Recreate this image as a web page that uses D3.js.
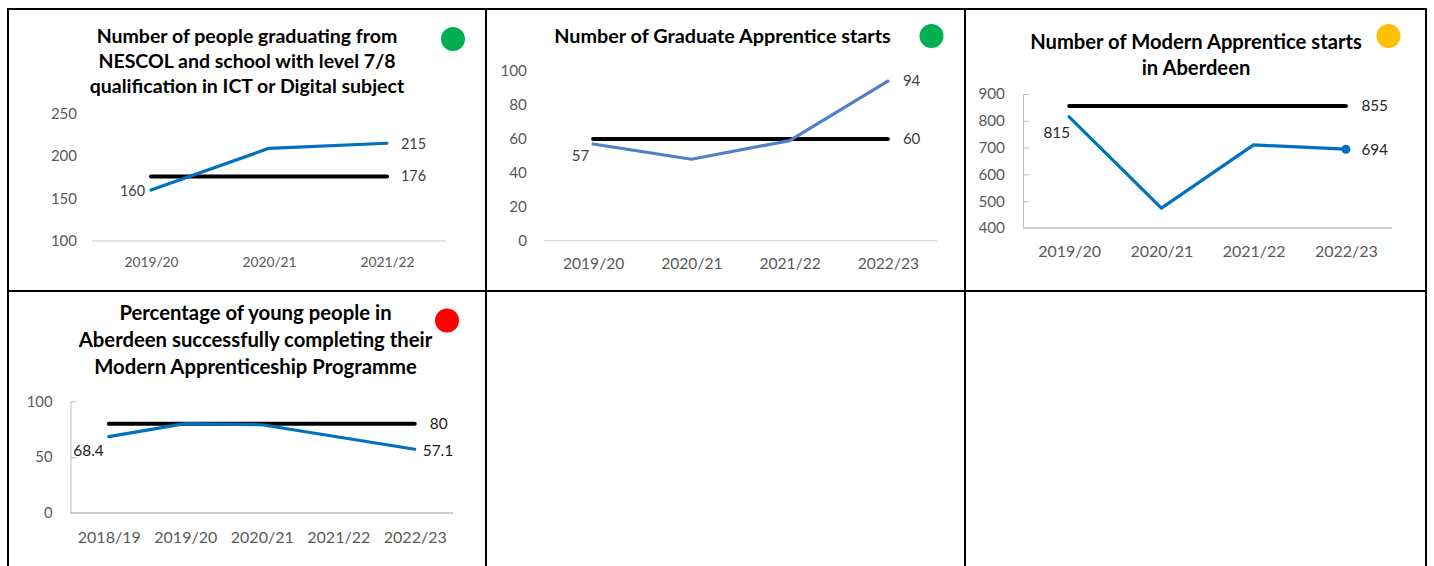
<!DOCTYPE html>
<html>
<head>
<meta charset="utf-8">
<script src="https://cdn.jsdelivr.net/npm/d3@7"></script>
<style>
  html, body { margin: 0; padding: 0; background: #fff; }
  svg { display: block; font-family: Lato, "Open Sans", sans-serif; }
</style>
</head>
<body>
<svg id="chart" width="1434" height="566"></svg>
<script>
// ---- Data ----
// NESCOL / school level 7/8 ICT or Digital graduates
const gradYears = ["2019/20", "2020/21", "2021/22"];
const gradValues = [160, 209, 215];
const gradTarget = 176;
const gradTicks = [100, 150, 200, 250];

// Graduate Apprentice starts
const gaYears = ["2019/20", "2020/21", "2021/22", "2022/23"];
const gaValues = [57, 48, 59, 94];
const gaTarget = 60;
const gaTicks = [0, 20, 40, 60, 80, 100];

// Modern Apprentice starts in Aberdeen
const maYears = ["2019/20", "2020/21", "2021/22", "2022/23"];
const maValues = [815, 474, 710, 694];
const maTarget = 855;
const maTicks = [400, 500, 600, 700, 800, 900];

// Modern Apprenticeship completion rate (%)
const mcYears = ["2018/19", "2019/20", "2020/21", "2021/22", "2022/23"];
const mcValues = [68.4, 80, 79, 68, 57.1];
const mcTarget = 80;
const mcTicks = [0, 50, 100];

// RAG status colours
const ragGreen = "#00B050", ragAmber = "#FFC000", ragRed = "#FF0000";

const svg = d3.select("#chart");
svg.append("rect").attr("width", 1434).attr("height", 566).attr("fill", "#fff");

// ---- Table grid ----
const grid = svg.append("g").attr("stroke", "#000").attr("stroke-width", 2);
[8, 486, 965, 1426].forEach(x =>
  grid.append("line").attr("x1", x).attr("x2", x).attr("y1", 8).attr("y2", 566));
[9, 291].forEach(y =>
  grid.append("line").attr("x1", 7).attr("x2", 1427).attr("y1", y).attr("y2", y));

// ---- Panel renderer ----
function drawPanel(cfg) {
  const g = svg.append("g");

  // title
  const title = g.append("text")
    .attr("text-anchor", "middle")
    .attr("font-weight", "bold")
    .attr("font-size", cfg.titleSize)
    .attr("fill", "#000");
  cfg.title.forEach((line, i) => {
    title.append("tspan").attr("x", cfg.titleX)
      .attr("y", cfg.titleY + i * cfg.titleLead).text(line);
  });

  // status dot
  g.append("circle").attr("cx", cfg.dot[0]).attr("cy", cfg.dot[1])
    .attr("r", 12).attr("fill", cfg.dotColor);

  const x = d3.scalePoint().domain(cfg.years).range([cfg.left, cfg.right]).padding(0.5);
  const y = d3.scaleLinear().domain(cfg.domain).range([cfg.bottom, cfg.top]);

  // y axis
  const yAxis = d3.axisLeft(y).tickValues(cfg.ticks).tickFormat(d3.format("d"));
  if (cfg.axisLine) {
    yAxis.tickSizeInner(-6).tickSizeOuter(0).tickPadding(cfg.tickPad);
  } else {
    yAxis.tickSize(0).tickPadding(cfg.tickPad);
  }
  const ya = g.append("g").attr("transform", `translate(${cfg.left},0)`).call(yAxis);
  ya.selectAll("text").attr("font-size", cfg.tickSize).attr("fill", "#595959")
    .attr("font-family", "Lato, sans-serif");
  ya.selectAll("line").attr("stroke", "#BFBFBF");
  if (cfg.axisLine) {
    ya.select(".domain").attr("stroke", "#BFBFBF");
    ya.selectAll(".tick").filter(d => d === cfg.domain[0]).select("line").remove();
  } else {
    ya.select(".domain").remove();
  }

  // baseline
  g.append("line")
    .attr("x1", cfg.left).attr("x2", cfg.right)
    .attr("y1", y(cfg.domain[0])).attr("y2", y(cfg.domain[0]))
    .attr("stroke", cfg.axisLine ? "#BFBFBF" : "#D9D9D9").attr("stroke-width", 1.3);

  // category labels
  const xa = g.append("g").attr("transform", `translate(0,${y(cfg.domain[0])})`)
    .call(d3.axisBottom(x).tickSize(0).tickPadding(0));
  xa.select(".domain").remove();
  xa.selectAll("text").attr("font-size", cfg.catSize).attr("fill", "#595959")
    .attr("font-family", "Lato, sans-serif")
    .attr("dy", null).attr("y", cfg.catOffset);

  // target line
  g.append("line")
    .attr("x1", x(cfg.years[0])).attr("x2", x(cfg.years[cfg.years.length - 1]))
    .attr("y1", y(cfg.target)).attr("y2", y(cfg.target))
    .attr("stroke", "#000").attr("stroke-width", 4).attr("stroke-linecap", "round");

  // actual series
  const line = d3.line().x((d, i) => x(cfg.years[i])).y(d => y(d));
  g.append("path").datum(cfg.values).attr("d", line)
    .attr("fill", "none").attr("stroke", cfg.color).attr("stroke-width", 3.2)
    .attr("stroke-linecap", "round").attr("stroke-linejoin", "round");

  if (cfg.endMarker) {
    const n = cfg.values.length - 1;
    g.append("circle").attr("cx", x(cfg.years[n])).attr("cy", y(cfg.values[n]))
      .attr("r", 4.5).attr("fill", cfg.color);
  }

  // data labels
  const lab = (txt, px, py, anchor) => g.append("text")
    .attr("x", px).attr("y", py).attr("dy", "0.35em")
    .attr("text-anchor", anchor).attr("font-size", cfg.labelSize)
    .attr("fill", cfg.labelColor).text(txt);

  const first = cfg.years[0], last = cfg.years[cfg.years.length - 1];
  const v0 = cfg.values[0], vn = cfg.values[cfg.values.length - 1];
  lab(String(v0), x(first) + cfg.firstLab[0], y(v0) + cfg.firstLab[1], "end");
  lab(String(vn), x(last) + cfg.lastLab[0], y(vn) + cfg.lastLab[1], "start");
  lab(String(cfg.target), x(last) + cfg.targetLab, y(cfg.target), "start");
}

drawPanel({
  title: ["Number of people graduating from", "NESCOL and school with level 7/8",
          "qualification in ICT or Digital subject"],
  titleX: 247, titleY: 42.5, titleLead: 25, titleSize: 19.5,
  dot: [453, 39], dotColor: ragGreen,
  years: gradYears, values: gradValues, target: gradTarget, ticks: gradTicks,
  domain: [100, 250], left: 92, right: 446, top: 113.5, bottom: 241,
  axisLine: false, tickPad: 15, tickSize: 15, catSize: 13.8, catOffset: 25.5,
  color: "#0070C0", endMarker: false, labelSize: 14.4, labelColor: "#404040",
  firstLab: [-6, 1], lastLab: [14, 1], targetLab: 14
});

drawPanel({
  title: ["Number of Graduate Apprentice starts"],
  titleX: 722.5, titleY: 43.3, titleLead: 25, titleSize: 19.8,
  dot: [931.5, 36], dotColor: ragGreen,
  years: gaYears, values: gaValues, target: gaTarget, ticks: gaTicks,
  domain: [0, 100], left: 544, right: 937, top: 71, bottom: 240.7,
  axisLine: false, tickPad: 17, tickSize: 15.3, catSize: 15.6, catOffset: 28.5,
  color: "#4F81C4", endMarker: false, labelSize: 15, labelColor: "#404040",
  firstLab: [-4, 12], lastLab: [15, 0], targetLab: 15
});

drawPanel({
  title: ["Number of Modern Apprentice starts", "in Aberdeen"],
  titleX: 1196, titleY: 49.3, titleLead: 25.7, titleSize: 20.2,
  dot: [1388.5, 36], dotColor: ragAmber,
  years: maYears, values: maValues, target: maTarget, ticks: maTicks,
  domain: [400, 900], left: 1023, right: 1392, top: 94, bottom: 228,
  axisLine: true, tickPad: 18, tickSize: 15.3, catSize: 16, catOffset: 29,
  color: "#0070C0", endMarker: true, labelSize: 15.3, labelColor: "#262626",
  firstLab: [1, 16], lastLab: [15.5, 0], targetLab: 15.5
});

drawPanel({
  title: ["Percentage of young people in", "Aberdeen successfully completing their",
          "Modern Apprenticeship Programme"],
  titleX: 255.5, titleY: 320.3, titleLead: 26.8, titleSize: 20.3,
  dot: [447, 320.5], dotColor: ragRed,
  years: mcYears, values: mcValues, target: mcTarget, ticks: mcTicks,
  domain: [0, 100], left: 70.5, right: 453, top: 401.3, bottom: 513,
  axisLine: true, tickPad: 18, tickSize: 14.8, catSize: 16, catOffset: 30,
  color: "#0070C0", endMarker: false, labelSize: 15.4, labelColor: "#1a1a1a",
  firstLab: [-5, 14], lastLab: [8, 1], targetLab: 15
});
</script>
</body>
</html>
